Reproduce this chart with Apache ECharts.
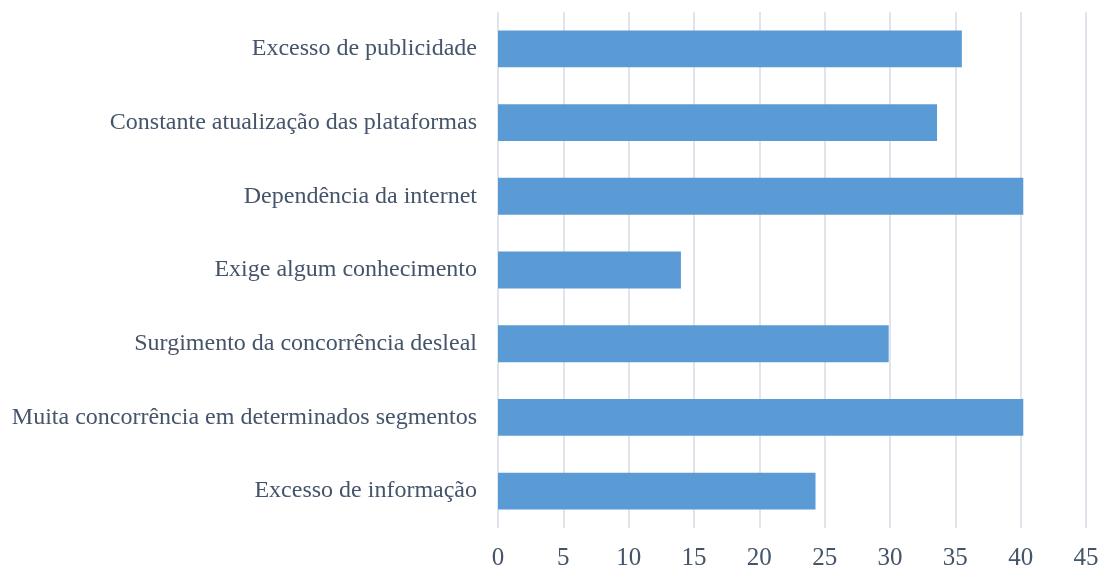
<!DOCTYPE html>
<html>
<head>
<meta charset="utf-8">
<script src="https://cdn.jsdelivr.net/npm/echarts@6/dist/echarts.min.js"></script>
<style>html,body{margin:0;padding:0;background:#fff}#c{width:1105px;height:571px}</style>
</head>
<body>
<div id="c"></div>
<script>
const categories = [
  'Excesso de publicidade',
  'Constante atualização das plataformas',
  'Dependência da internet',
  'Exige algum conhecimento',
  'Surgimento da concorrência desleal',
  'Muita concorrência em determinados segmentos',
  'Excesso de informação'
];
const values = [35.5, 33.6, 40.2, 14.0, 29.9, 40.2, 24.3];

const chart = echarts.init(document.getElementById('c'), null, {renderer: 'canvas'});
chart.setOption({
  animation: false,
  grid: {left: 498, right: 19, top: 12, bottom: 41, containLabel: false},
  xAxis: {
    type: 'value', min: 0, max: 45, interval: 5,
    axisLine: {show: false}, axisTick: {show: false},
    splitLine: {show: true, lineStyle: {color: '#D9DEE7', width: 1.6}},
    axisLabel: {color: '#44546A', fontFamily: 'Liberation Serif', fontSize: 25, margin: 18}
  },
  yAxis: {
    type: 'category', data: categories, inverse: true,
    axisLine: {show: false}, axisTick: {show: false},
    axisLabel: {color: '#44546A', fontFamily: 'Liberation Serif', fontSize: 24, margin: 21}
  },
  series: [{
    type: 'bar', data: values, barCategoryGap: '50%',
    itemStyle: {color: '#5B9BD5'}
  }]
});
</script>
</body>
</html>
